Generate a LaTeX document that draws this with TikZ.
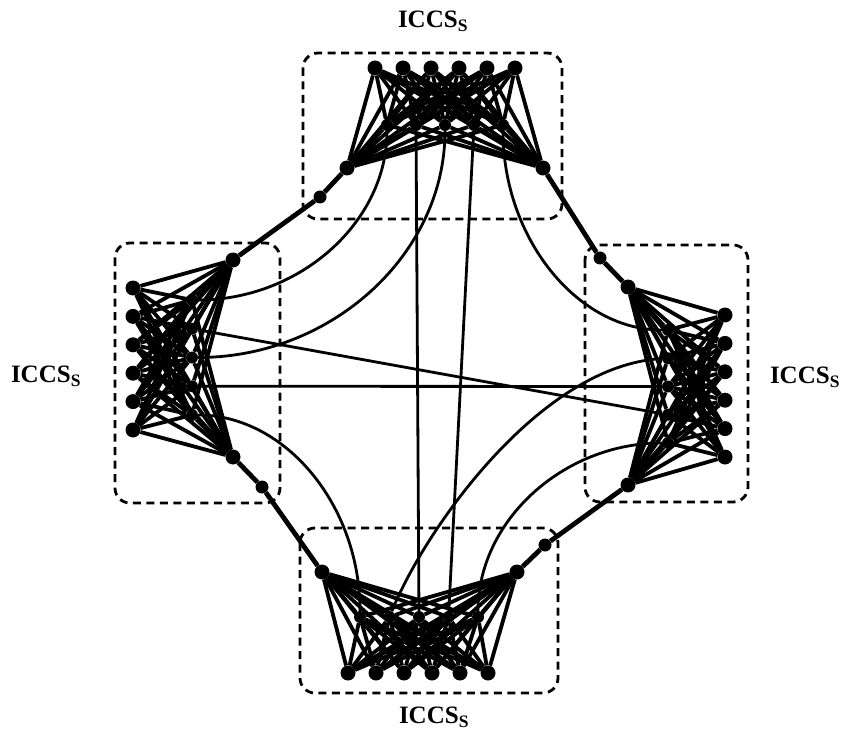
\documentclass[tikz,border=0pt]{standalone}
\usepackage{fontspec}
\setmainfont{Liberation Serif}
\usetikzlibrary{calc}
\begin{document}
\begin{tikzpicture}[x=1pt,y=-1pt,
    vtx/.style={circle,fill,inner sep=0pt,minimum size=15pt},
    hub/.style={circle,fill,inner sep=0pt,minimum size=12pt},
    dot/.style={circle,fill,inner sep=0pt,minimum size=13pt},
    link/.style={line width=3.8pt},
    ring/.style={line width=4.8pt},
    chord/.style={line width=2.8pt},
    group/.style={dash pattern=on 8pt off 5.5pt,line width=2.8pt,rounded corners=15pt},
    lbl/.style={font=\fontsize{25}{28}\selectfont\bfseries}]
\useasboundingbox (0,0) rectangle (847,741);

% dashed frames around the four subsystems
\draw[group] (303,53) rectangle (562,219);
\draw[group] (115,243) rectangle (280,503);
\draw[group] (585,245) rectangle (748,502);
\draw[group] (300,528) rectangle (558,693);

\node[lbl] (t-lab) at (433,21) {ICCS\textsubscript{S}};
\node[lbl] (l-lab) at (46,376) {ICCS\textsubscript{S}};
\node[lbl] (r-lab) at (805,377) {ICCS\textsubscript{S}};
\node[lbl] (b-lab) at (434,717) {ICCS\textsubscript{S}};

% top subsystem
\foreach \k in {1,...,6} \node[vtx] (t-o\k) at ({375+28*(\k-1)},68) {};
\foreach \k in {1,...,5} \node[hub] (t-i\k) at ({387+29*(\k-1)},125) {};
\node[vtx] (t-c1) at (347,168) {};
\node[vtx] (t-c2) at (543,168) {};

% bottom subsystem
\foreach \k in {1,...,6} \node[vtx] (b-o\k) at ({348+28*(\k-1)},673) {};
\foreach \k in {1,...,5} \node[hub] (b-i\k) at ({360+29.5*(\k-1)},617) {};
\node[vtx] (b-c1) at (322,572) {};
\node[vtx] (b-c2) at (517,572) {};

% left subsystem
\foreach \k in {1,...,6} \node[vtx] (l-o\k) at (133,{288+28.4*(\k-1)}) {};
\foreach \k in {1,...,5} \node[hub] (l-i\k) at (192,{300+28.75*(\k-1)}) {};
\node[vtx] (l-c1) at (233,260) {};
\node[vtx] (l-c2) at (233,457) {};

% right subsystem
\foreach \k in {1,...,6} \node[vtx] (r-o\k) at (725,{315+28.4*(\k-1)}) {};
\foreach \k in {1,...,5} \node[hub] (r-i\k) at (668,{330+28.25*(\k-1)}) {};
\node[vtx] (r-c1) at (628,287) {};
\node[vtx] (r-c2) at (628,485) {};

% links inside each subsystem
\foreach \c in {t,b,l,r}{
  \foreach \a in {1,...,6}{
    \foreach \b in {1,...,5} \draw[link] (\c-o\a) -- (\c-i\b);
    \draw[link] (\c-o\a) -- (\c-c1);
    \draw[link] (\c-o\a) -- (\c-c2);
  }
  \foreach \b in {1,...,5}{
    \draw[link] (\c-c1) -- (\c-i\b);
    \draw[link] (\c-c2) -- (\c-i\b);
  }
}

% ring between the subsystems
\node[dot] (tl) at (320,197) {};
\node[dot] (tr) at (600,258) {};
\node[dot] (br) at (545,545) {};
\node[dot] (bl) at (262,487) {};
\draw[ring] (l-c1) -- (tl) -- (t-c1);
\draw[ring] (t-c2) -- (tr) -- (r-c1);
\draw[ring] (r-c2) -- (br) -- (b-c2);
\draw[ring] (b-c1) -- (bl) -- (l-c2);

% long links across the middle
\draw[chord] (t-i2) -- (b-i3);
\draw[chord] (t-i4) -- (b-i4);
\draw[chord] (l-i4) -- (r-i3);
\draw[chord] (l-i2) -- (r-i4);
\draw[chord] (t-i1) .. controls ($(t-i1)+(0,97)$) and ($(l-i1)+(108,0)$) .. (l-i1);
\draw[chord] (t-i3) .. controls ($(t-i3)+(0,129)$) and ($(l-i3)+(140,0)$) .. (l-i3);
\draw[chord] (t-i5) .. controls ($(t-i5)+(0,113)$) and ($(r-i1)+(-91,0)$) .. (r-i1);
\draw[chord] (l-i5) .. controls ($(l-i5)+(93,0)$) and ($(b-i1)+(0,-112)$) .. (b-i1);
\draw[chord] (b-i5) .. controls ($(b-i5)+(0,-96)$) and ($(r-i5)+(-105,0)$) .. (r-i5);
\draw[chord] (b-i2) .. controls ($(b-i2)+(35,-87)$) and ($(r-i2)+(-128,7)$) .. (r-i2);
\end{tikzpicture}
\end{document}
